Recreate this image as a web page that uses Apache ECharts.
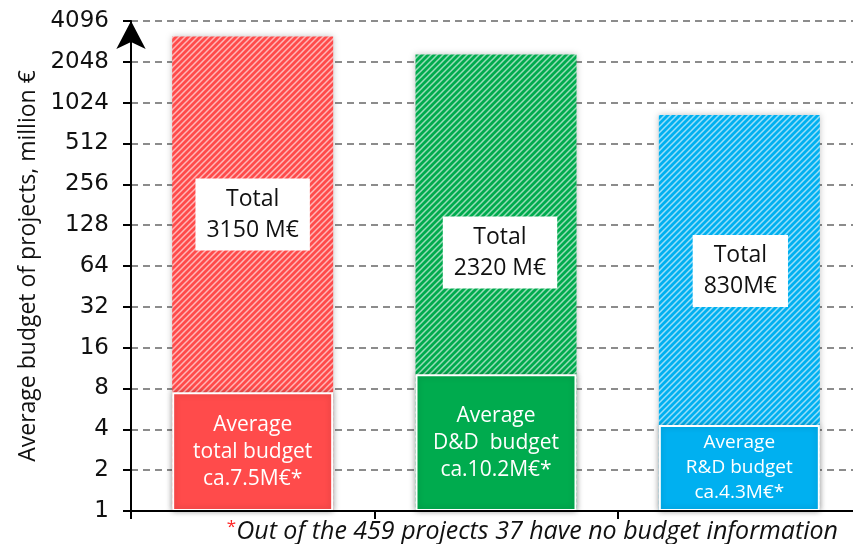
<!DOCTYPE html>
<html>
<head>
<meta charset="utf-8">
<script src="https://cdn.jsdelivr.net/npm/echarts@6/dist/echarts.min.js"></script>
<style>
html, body { margin: 0; padding: 0; background: #fff; }
#chart { width: 853px; height: 544px; }
</style>
</head>
<body>
<div id="chart"></div>
<script>
// values
var categories = ['Total', 'D&D', 'R&D'];
var totalBudget = [3150, 2320, 830];
var averageBudget = [7.5, 10.2, 4.3];
var totalLabels = ['Total\n3150 M€', 'Total\n2320 M€', 'Total\n830M€'];
var averageLabels = ['Average\ntotal budget\nca.7.5M€*', 'Average\nD&D  budget\nca.10.2M€*', 'Average\nR&D budget\nca.4.3M€*'];
var footnote = 'Out of the 459 projects 37 have no budget information';

var barColors = ['#ff4b4b', '#00ab4e', '#00b0f0'];
var boxTop = [142, 162, 120];      // distance of the white "Total" box from the bar top
var boxShift = [0, 4, 1];
var avgFont = [21, 21, 19];

// diagonal white stripes on the bar colour
function hatch(color) {
    var c = document.createElement('canvas');
    c.width = 6;
    c.height = 6;
    var ctx = c.getContext('2d');
    ctx.fillStyle = color;
    ctx.fillRect(0, 0, 6, 6);
    ctx.strokeStyle = 'rgba(255,255,255,0.6)';
    ctx.lineWidth = 1.5;
    ctx.beginPath();
    ctx.moveTo(-1, 7); ctx.lineTo(7, -1);
    ctx.moveTo(-1, 1); ctx.lineTo(1, -1);
    ctx.moveTo(5, 7); ctx.lineTo(7, 5);
    ctx.stroke();
    return c;
}

var chart = echarts.init(document.getElementById('chart'), null, {renderer: 'canvas'});

var option = {
    animation: false,
    backgroundColor: '#fff',
    grid: {left: 131, width: 730, top: 21, bottom: 33, outerBoundsMode: 'none', containLabel: false},
    xAxis: {
        type: 'category',
        data: categories,
        z: 3,
        axisLine: {lineStyle: {color: '#000', width: 2}},
        axisTick: {show: true, length: 8, lineStyle: {color: '#000', width: 2}},
        axisLabel: {show: false}
    },
    yAxis: {
        type: 'log',
        logBase: 2,
        min: 1,
        max: 4096,
        interval: 1,
        name: 'Average budget of projects, million €',
        nameLocation: 'middle',
        nameGap: 88,
        nameTextStyle: {fontFamily: 'Open Sans', fontSize: 23, color: '#111'},
        axisLine: {
            show: true,
            symbol: ['none', 'arrow'],
            symbolSize: [22, 28],
            lineStyle: {color: '#000', width: 2}
        },
        axisTick: {show: true, length: 8, lineStyle: {color: '#000', width: 2}},
        axisLabel: {
            margin: 22,
            fontFamily: 'DejaVu Sans',
            fontSize: 23,
            color: '#111',
            formatter: function (v) { return String(Math.round(v)); }
        },
        splitLine: {show: true, lineStyle: {color: '#8c8c8c', width: 2, type: [7, 5]}}
    },
    series: [
        {
            name: 'total',
            type: 'bar',
            barWidth: 161,
            barGap: '-100%',
            data: totalBudget.map(function (v, i) {
                return {
                    value: v,
                    itemStyle: {
                        color: {image: hatch(barColors[i]), repeat: 'repeat'},
                        shadowBlur: 6,
                        shadowColor: 'rgba(0,0,0,0.25)'
                    },
                    label: {
                        show: true,
                        position: 'insideTop',
                        distance: boxTop[i],
                        offset: [boxShift[i], 0],
                        formatter: totalLabels[i],
                        backgroundColor: '#fff',
                        padding: [5, 11, 5, 11],
                        fontFamily: 'Open Sans',
                        fontSize: 23,
                        lineHeight: 31,
                        color: '#111'
                    }
                };
            })
        },
        {
            name: 'average',
            type: 'bar',
            barWidth: 161,
            barGap: '-100%',
            data: averageBudget.map(function (v, i) {
                return {
                    value: v,
                    itemStyle: {
                        color: barColors[i],
                        borderColor: '#fff',
                        borderWidth: 2,
                        shadowBlur: 6,
                        shadowColor: 'rgba(0,0,0,0.2)'
                    },
                    label: {
                        show: true,
                        position: 'inside',
                        formatter: averageLabels[i],
                        fontFamily: 'Open Sans',
                        fontSize: avgFont[i],
                        lineHeight: avgFont[i] + 6,
                        color: '#fff'
                    }
                };
            })
        }
    ],
    graphic: [{
        type: 'text',
        right: 15,
        bottom: 0,
        style: {
            text: '{r|*}' + footnote,
            fontFamily: 'Open Sans',
            fontStyle: 'italic',
            fontSize: 25,
            fill: '#111',
            rich: {
                r: {fill: '#ff2020', fontSize: 17, verticalAlign: 'top', fontFamily: 'Open Sans'}
            }
        }
    }]
};

chart.setOption(option);
</script>
</body>
</html>
